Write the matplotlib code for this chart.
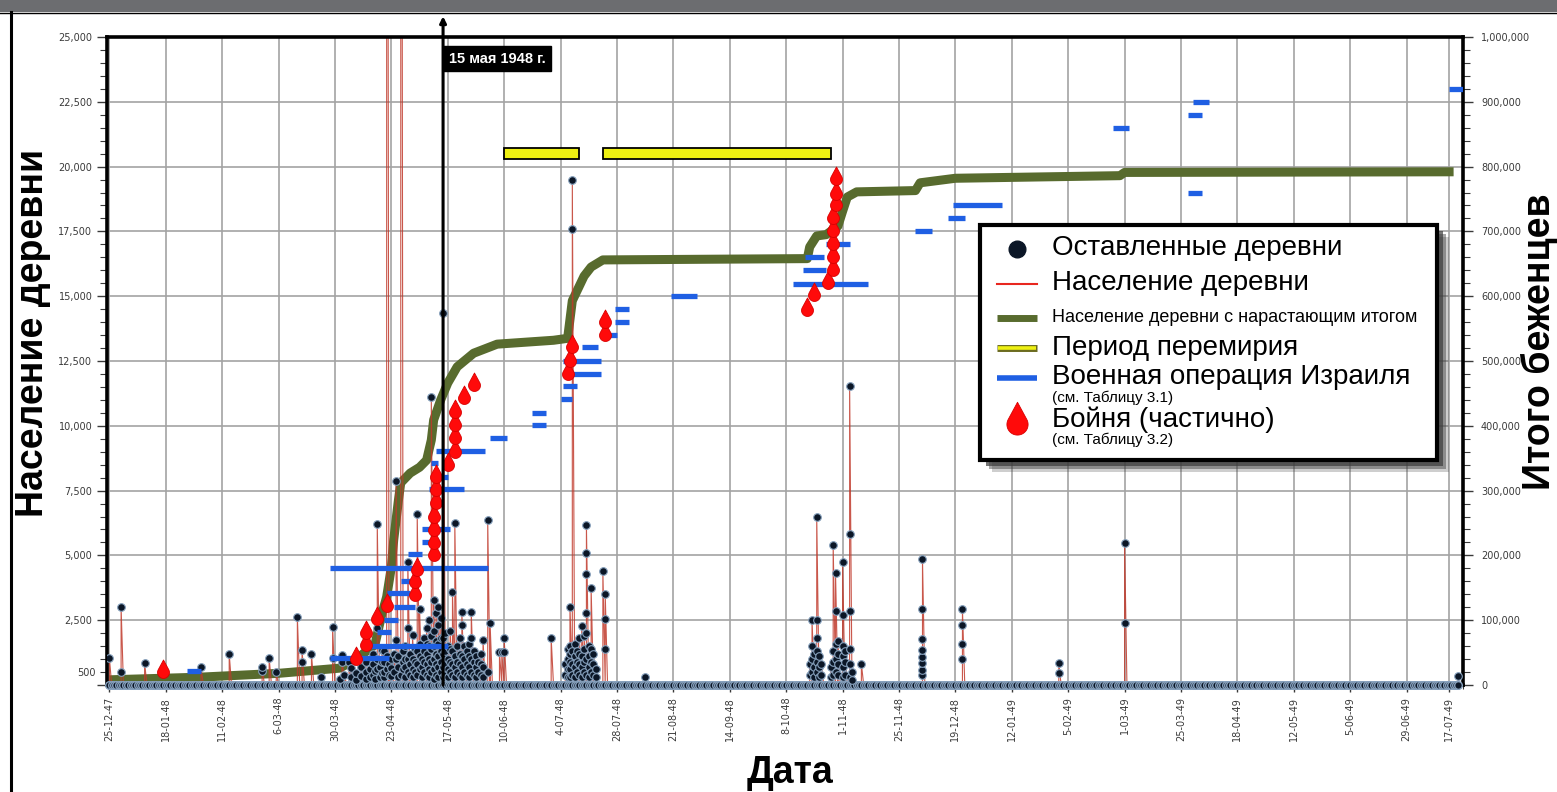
import matplotlib
matplotlib.use("Agg")
import matplotlib.pyplot as plt
import matplotlib.dates as mdates
from matplotlib.path import Path
from matplotlib.lines import Line2D
from matplotlib.patches import Rectangle
from matplotlib.ticker import MultipleLocator, FixedLocator, FuncFormatter
import numpy as np
import pandas as pd

W, H = 1557, 792

# Abandoned villages: date -> populations of villages abandoned that day
village_dates = [
    "1947-12-25", "1947-12-30", "1948-01-09", "1948-02-02", "1948-02-14",
    "1948-02-28", "1948-03-02", "1948-03-05", "1948-03-14", "1948-03-16",
    "1948-03-20", "1948-03-24", "1948-03-29", "1948-04-01", "1948-04-02",
    "1948-04-03", "1948-04-05", "1948-04-06", "1948-04-08", "1948-04-10",
    "1948-04-12", "1948-04-14", "1948-04-15", "1948-04-16", "1948-04-17",
    "1948-04-18", "1948-04-19", "1948-04-20", "1948-04-21", "1948-04-22",
    "1948-04-23", "1948-04-24", "1948-04-25", "1948-04-26", "1948-04-27",
    "1948-04-28", "1948-04-29", "1948-04-30", "1948-05-01", "1948-05-02",
    "1948-05-03", "1948-05-04", "1948-05-05", "1948-05-06", "1948-05-07",
    "1948-05-08", "1948-05-09", "1948-05-10", "1948-05-11", "1948-05-12",
    "1948-05-13", "1948-05-14", "1948-05-15", "1948-05-16", "1948-05-17",
    "1948-05-18", "1948-05-19", "1948-05-20", "1948-05-21", "1948-05-22",
    "1948-05-23", "1948-05-24", "1948-05-25", "1948-05-26", "1948-05-27",
    "1948-05-28", "1948-05-29", "1948-05-30", "1948-05-31", "1948-06-01",
    "1948-06-03", "1948-06-04", "1948-06-08", "1948-06-09", "1948-06-10",
    "1948-06-30", "1948-07-06", "1948-07-07", "1948-07-08", "1948-07-09",
    "1948-07-10", "1948-07-11", "1948-07-12", "1948-07-13", "1948-07-14",
    "1948-07-15", "1948-07-16", "1948-07-17", "1948-07-18", "1948-07-19",
    "1948-07-22", "1948-07-23", "1948-08-09", "1948-10-18", "1948-10-19",
    "1948-10-20", "1948-10-21", "1948-10-22", "1948-10-23", "1948-10-27",
    "1948-10-28", "1948-10-29", "1948-10-30", "1948-11-01", "1948-11-02",
    "1948-11-04", "1948-11-05", "1948-11-09", "1948-12-05", "1948-12-22",
    "1949-02-01", "1949-03-01", "1949-07-21",
]
village_pops = [
    [1050], [500, 3000], [850], [680], [1200],
    [540, 700], [1040], [500], [2620], [890, 1350],
    [1200], [300], [1040, 2240], [250], [890, 1160],
    [400], [890], [300, 650], [200, 450], [350, 700],
    [250, 500, 900], [300, 600], [400, 800, 1200], [250, 550], [600, 1000, 2200, 6210],
    [300, 700], [450, 900, 1350], [300, 500, 900, 1300], [600, 1100, 70000], [400, 800],
    [350, 650, 1000], [500, 1200], [1000, 1740, 7870], [300, 700, 1100], [400, 69000],
    [600, 900, 1300], [300, 700, 1000, 1500], [500, 1000, 2200, 4750], [400, 800, 1200], [300, 600, 1000, 1930],
    [500, 900, 1400], [400, 800, 1300, 6600], [600, 1100, 1600, 2930], [300, 700, 1000], [500, 900, 1300, 1800],
    [400, 800, 1200, 1600, 2200], [300, 600, 1000, 1500, 2500], [500, 900, 1400, 1900, 11100], [250, 600, 1000, 1500, 2100, 3280], [400, 800, 1200, 1700, 2780],
    [300, 700, 1100, 1600, 2300, 3000], [500, 900, 1300, 1800, 2600], [300, 700, 1200, 1800, 14350], [400, 800, 1300, 2000], [300, 600, 1000, 1500],
    [500, 900, 1400, 2100], [400, 800, 1300, 3590], [300, 700, 1100, 6250], [500, 900, 1500], [400, 800, 1200, 1800],
    [300, 700, 1100, 2310, 2820], [500, 1000, 1500], [400, 800, 1300], [300, 700, 1100, 1600], [500, 1000, 1810, 2820],
    [400, 900, 1300], [300, 700, 1100], [500, 900], [400, 800, 1200], [300, 700, 1740],
    [500, 6370], [2390], [1270], [1270], [1270, 1810],
    [1810], [400, 800], [300, 600, 1000, 1400], [300, 600, 900, 1200, 1500, 3010], [400, 800, 1300, 17590, 19480],
    [300, 700, 1100, 1600], [500, 900, 1300], [400, 800, 1200, 1800], [300, 700, 1100, 2280], [500, 900, 1400, 1900],
    [400, 1000, 2000, 2780, 4280, 5090, 6170], [300, 700, 1100, 1500], [500, 900, 1400, 3740], [400, 800, 1200], [300, 600],
    [4400], [1390, 2550, 3510], [310], [400, 800], [500, 1000, 1500, 2510],
    [300, 700, 1200], [500, 900, 1300, 1800, 2510, 6480], [300, 700, 1100], [400, 800], [300, 700],
    [400, 900, 1300, 5400], [500, 1000, 1600, 2850, 4320], [400, 800, 1200, 1700], [300, 700, 1100, 1500, 2700, 4750], [400, 900, 1300],
    [300, 800, 1400, 2850, 5830, 11540], [200, 500], [810], [390, 580, 850, 1080, 1350, 1770, 2930, 4860], [1000, 1580, 2310, 2930],
    [460, 850], [2390, 5480], [350],
]
assert len(village_dates) == len(village_pops)

# Cumulative village population (right axis)
cum_dates = [
    "1947-12-25", "1948-02-01", "1948-03-06", "1948-04-01", "1948-04-08",
    "1948-04-16", "1948-04-19", "1948-04-21", "1948-04-23", "1948-04-24",
    "1948-04-26", "1948-04-27", "1948-05-01", "1948-05-05", "1948-05-08",
    "1948-05-10", "1948-05-11", "1948-05-14", "1948-05-17", "1948-05-21",
    "1948-05-28", "1948-06-07", "1948-07-01", "1948-07-07", "1948-07-09",
    "1948-07-14", "1948-07-17", "1948-07-22", "1948-10-17", "1948-10-18",
    "1948-10-21", "1948-10-25", "1948-10-30", "1948-11-01", "1948-11-03",
    "1948-11-07", "1948-12-02", "1948-12-04", "1948-12-19", "1949-02-27",
    "1949-03-01", "1949-07-19",
]
cum_population = [
    8000, 12000, 18000, 26000, 40000,
    62000, 110000, 136000, 182000, 224000,
    285000, 312000, 327000, 336000, 347000,
    378000, 409000, 440000, 466000, 491000,
    512000, 526000, 532000, 535000, 593000,
    631000, 645000, 656000, 658000, 676000,
    693000, 695000, 708000, 731000, 753000,
    761000, 763000, 775000, 782000, 786000,
    791000, 792000,
]

# Truce periods
truce_start = ["1948-06-10", "1948-07-22"]
truce_end = ["1948-07-12", "1948-10-27"]
truce_level = 20500

# Israeli military operations
op_start = [
    "1948-01-27", "1948-03-28", "1948-04-14", "1948-04-17", "1948-04-20",
    "1948-04-24", "1948-04-21", "1948-04-27", "1948-03-28", "1948-04-30",
    "1948-05-06", "1948-05-06", "1948-05-09", "1948-05-11", "1948-05-10",
    "1948-05-12", "1948-06-04", "1948-06-22", "1948-06-22", "1948-07-04",
    "1948-07-05", "1948-07-09", "1948-07-05", "1948-07-13", "1948-07-22",
    "1948-07-27", "1948-07-27", "1948-08-20", "1948-10-11", "1948-10-15",
    "1948-10-16", "1948-10-25", "1948-12-02", "1948-12-16", "1948-12-18",
    "1949-02-24", "1949-03-28", "1949-03-28", "1949-03-30", "1949-07-17",
]
op_end = [
    "1948-02-02", "1948-04-22", "1948-05-17", "1948-04-23", "1948-04-26",
    "1948-05-03", "1948-05-01", "1948-05-01", "1948-06-03", "1948-05-06",
    "1948-05-12", "1948-05-18", "1948-05-24", "1948-05-17", "1948-05-13",
    "1948-06-02", "1948-06-11", "1948-06-28", "1948-06-28", "1948-07-09",
    "1948-07-11", "1948-07-21", "1948-07-21", "1948-07-20", "1948-07-28",
    "1948-08-02", "1948-08-02", "1948-08-31", "1948-11-12", "1948-10-25",
    "1948-10-24", "1948-11-04", "1948-12-09", "1948-12-23", "1949-01-08",
    "1949-03-03", "1949-04-03", "1949-04-03", "1949-04-06", "1949-07-23",
]
op_levels = [
    540, 1040, 1500, 2040, 2500, 3000, 3550, 4000, 4510, 5050,
    5520, 6020, 7560, 8020, 8560, 9030, 9530, 10030, 10500, 11030,
    11530, 12000, 12500, 13040, 13500, 14000, 14500, 15000, 15470, 16000,
    16500, 17010, 17500, 18000, 18500, 21500, 19000, 22000, 22500, 23000,
]

# Massacres
massacre_dates = [
    "1948-01-17", "1948-04-08", "1948-04-12", "1948-04-12", "1948-04-17",
    "1948-04-21", "1948-05-03", "1948-05-03", "1948-05-04", "1948-05-11",
    "1948-05-11", "1948-05-11", "1948-05-11", "1948-05-12", "1948-05-12",
    "1948-05-12", "1948-05-17", "1948-05-20", "1948-05-20", "1948-05-20",
    "1948-05-20", "1948-05-24", "1948-05-28", "1948-07-07", "1948-07-08",
    "1948-07-09", "1948-07-23", "1948-07-23", "1948-10-17", "1948-10-20",
    "1948-10-26", "1948-10-28", "1948-10-28", "1948-10-28", "1948-10-28",
    "1948-10-28", "1948-10-29", "1948-10-29", "1948-10-29",
]
massacre_levels = [
    500, 1000, 1540, 2000, 2540, 3050, 3470, 3970, 4440, 5020,
    5480, 5980, 6480, 7020, 7520, 8020, 8490, 8990, 9530, 10030,
    10530, 11070, 11570, 12000, 12500, 13040, 13500, 14000, 14470, 15050,
    15510, 16000, 16500, 17010, 17500, 18020, 18520, 18940, 19520,
]

state_date = "1948-05-15"

# Style
RED_LINE = "#c0392b"
DOT_FILL = "#0b1626"
DOT_EDGE = "#86a0bc"
GREEN = "#586b2e"
YELLOW = "#eef012"
BLUE = "#1f5fe3"
DROP_RED = "#ff0a0a"
GRID = "#a3a3a3"
TICK_COLOR = "#3a3a3a"
LABEL_FONT = "Liberation Sans"


def drop_path(tip=2.1, n=40):
    a = np.arccos(1 / tip)
    start = np.pi / 2 - a
    theta = np.linspace(start, start - (2 * np.pi - 2 * a), n)
    verts = [(0, tip)] + [(np.cos(t), np.sin(t)) for t in theta] + [(0, tip)]
    codes = [Path.MOVETO] + [Path.LINETO] * n + [Path.CLOSEPOLY]
    return Path(verts, codes)


DROP = drop_path()

fig = plt.figure(figsize=(W / 100, H / 100), dpi=100)
fig.patch.set_facecolor("white")
ax = fig.add_axes([107 / W, 1 - 685 / H, (1463 - 107) / W, (685 - 37) / H])
ax2 = ax.twinx()
ax.set_zorder(2)
ax.patch.set_visible(False)
ax2.set_zorder(1)

# village population series: a zero point every day plus each abandoned village
days = pd.date_range("1947-12-25", "1949-07-21", freq="D")
rows = [(d, 0) for d in days]
for ds, pops in zip(village_dates, village_pops):
    for p in pops:
        rows.append((pd.Timestamp(ds), p))
pts = pd.DataFrame(rows, columns=["date", "pop"]).sort_values(["date", "pop"], kind="stable")
villages = pts[pts["pop"] > 0]

ax.plot(pts["date"], pts["pop"], color=RED_LINE, lw=0.8, alpha=0.85, zorder=2)
ax.plot(days, np.zeros(len(days)), "o", ms=5.5, mfc=DOT_FILL, mec=DOT_EDGE, mew=1.0,
        clip_on=False, zorder=3)
ax.plot(villages["date"], villages["pop"], "o", ms=5.5, mfc=DOT_FILL, mec=DOT_EDGE, mew=0.8,
        zorder=3)

# cumulative total on right axis
ax2.plot(pd.to_datetime(cum_dates), cum_population, color=GREEN, lw=6.5,
         solid_joinstyle="round", solid_capstyle="butt", zorder=3)

# truce periods
ts = mdates.date2num(pd.to_datetime(truce_start))
te = mdates.date2num(pd.to_datetime(truce_end))
ax.barh([truce_level] * len(ts), te - ts, left=ts, height=400, color=YELLOW,
        edgecolor="black", linewidth=1.3, zorder=4)

# military operations
ax.hlines(op_levels, mdates.date2num(pd.to_datetime(op_start)),
          mdates.date2num(pd.to_datetime(op_end)), colors=BLUE, lw=3.8,
          capstyle="butt", zorder=5)

# massacres
ax.plot(pd.to_datetime(massacre_dates), massacre_levels, linestyle="none", marker=DROP,
        ms=18, mfc=DROP_RED, mec="#d80000", mew=0.6, zorder=6)

# 15 May 1948 marker
sd = pd.Timestamp(state_date)
ax.annotate("", xy=(sd, 25800), xytext=(sd, 0),
            arrowprops=dict(arrowstyle="-|>", color="black", lw=2.2, mutation_scale=9,
                            shrinkA=0, shrinkB=0),
            annotation_clip=False, zorder=7)
ax.annotate("15 мая 1948 г.", xy=(sd, 24170), xytext=(4, 0), textcoords="offset points",
            ha="left", va="center", color="white", fontsize=10.5, fontweight="bold",
            family=LABEL_FONT, zorder=8,
            bbox=dict(boxstyle="square,pad=0.4", fc="black", ec="black"))

# axes limits and ticks
ax.set_xlim(pd.Timestamp("1947-12-24"), pd.Timestamp("1949-07-23"))
ax.set_ylim(0, 25000)
ax2.set_ylim(0, 1_000_000)

major_ticks = list(pd.date_range("1947-12-25", "1949-06-29", freq="24D")) + [pd.Timestamp("1949-07-17")]
minor_ticks = pd.date_range("1947-12-25", "1949-07-23", freq="6D")
ax.xaxis.set_major_locator(FixedLocator(mdates.date2num(major_ticks)))
ax.xaxis.set_minor_locator(FixedLocator(mdates.date2num(minor_ticks)))


def date_label(v, pos):
    d = mdates.num2date(v)
    return f"{d.day}-{d:%m-%y}"


ax.xaxis.set_major_formatter(FuncFormatter(date_label))
ax.tick_params(axis="x", which="major", labelrotation=90, labelsize=7, labelcolor=TICK_COLOR,
               length=5, width=1, color=TICK_COLOR)
ax.tick_params(axis="x", which="minor", length=3, width=0.8, color=TICK_COLOR)

ax.yaxis.set_major_locator(MultipleLocator(2500))
ax.yaxis.set_minor_locator(MultipleLocator(500))
ax.yaxis.set_major_formatter(FuncFormatter(lambda v, p: "" if v == 0 else f"{v:,.0f}"))
ax.yaxis.set_minor_formatter(FuncFormatter(lambda v, p: "500" if abs(v - 500) < 1 else ""))
ax.tick_params(axis="y", which="both", labelsize=7, labelcolor=TICK_COLOR, color=TICK_COLOR)
ax.tick_params(axis="y", which="major", length=7, width=1)
ax.tick_params(axis="y", which="minor", length=5, width=0.8)

ax2.yaxis.set_major_locator(MultipleLocator(100000))
ax2.yaxis.set_minor_locator(MultipleLocator(20000))
ax2.yaxis.set_major_formatter(FuncFormatter(lambda v, p: f"{v:,.0f}"))
ax2.tick_params(axis="y", which="both", labelsize=7, labelcolor=TICK_COLOR, color=TICK_COLOR)
ax2.tick_params(axis="y", which="major", length=7, width=1, pad=6)
ax2.tick_params(axis="y", which="minor", length=5, width=0.8)

# grid lives on the lower axes so the data sits on top of it
ax.grid(False)
ax2.grid(True, axis="y", which="major", color=GRID, lw=1.2)
ax2.xaxis.set_visible(True)
ax2.tick_params(axis="x", which="both", bottom=False, top=False, labelbottom=False, labeltop=False)
ax2.grid(True, axis="x", which="major", color=GRID, lw=1.2)

for side in ["top", "left", "right", "bottom"]:
    ax.spines[side].set_color("black")
    ax.spines[side].set_linewidth(2.6)
    ax2.spines[side].set_visible(False)

# axis titles
fig.text(33 / W, 1 - 333 / H, "Население деревни", rotation=90, ha="center", va="center",
         fontsize=27, fontweight="bold", family=LABEL_FONT)
fig.text(1539 / W, 1 - 342 / H, "Итого беженцев", rotation=90, ha="center", va="center",
         fontsize=27, fontweight="bold", family=LABEL_FONT)
fig.text(790 / W, 1 - 773 / H, "Дата", ha="center", va="center",
         fontsize=27, fontweight="bold", family=LABEL_FONT)

# frame of the screenshot
fig.add_artist(Rectangle((0, 1 - 12 / H), 1, 12 / H, transform=fig.transFigure,
                         fc="#6c6d70", ec="none", zorder=20))
fig.add_artist(Line2D([0, 1], [1 - 12.5 / H] * 2, transform=fig.transFigure, color="black",
                      lw=1, zorder=21))
fig.add_artist(Line2D([11 / W] * 2, [0, 1 - 12 / H], transform=fig.transFigure, color="black",
                      lw=2.2, zorder=21))


# legend, drawn by hand in figure pixels
def fx(px):
    return px / W


def fy(py):
    return 1 - py / H


for off, alpha in [(12, 0.25), (9, 0.45), (6, 0.7)]:
    fig.add_artist(Rectangle((fx(980 + off), fy(460 + off)), (1437 - 980) / W, (460 - 225) / H,
                             transform=fig.transFigure, fc="#3c3c3c", ec="none",
                             alpha=alpha, zorder=10))
fig.add_artist(Rectangle((fx(980), fy(460)), (1437 - 980) / W, (460 - 225) / H,
                         transform=fig.transFigure, fc="white", ec="black", lw=3, zorder=11))

fig.add_artist(Line2D([fx(1017)], [fy(249)], marker="o", ms=12, mfc=DOT_FILL, mec=DOT_FILL,
                      transform=fig.transFigure, zorder=12))
fig.add_artist(Line2D([fx(997), fx(1037)], [fy(284)] * 2, color="#e8271f", lw=1.5,
                      transform=fig.transFigure, zorder=12))
fig.add_artist(Line2D([fx(997), fx(1037)], [fy(318)] * 2, color=GREEN, lw=5,
                      solid_capstyle="butt", transform=fig.transFigure, zorder=12))
fig.add_artist(Line2D([fx(997), fx(1037)], [fy(348)] * 2, color="#6b6b20", lw=5,
                      solid_capstyle="butt", transform=fig.transFigure, zorder=12))
fig.add_artist(Line2D([fx(998), fx(1036)], [fy(348)] * 2, color=YELLOW, lw=2.6,
                      solid_capstyle="butt", transform=fig.transFigure, zorder=13))
fig.add_artist(Line2D([fx(997), fx(1037)], [fy(378)] * 2, color=BLUE, lw=4,
                      solid_capstyle="butt", transform=fig.transFigure, zorder=12))
fig.add_artist(Line2D([fx(1017)], [fy(424)], marker=DROP, ms=32, mfc=DROP_RED, mec="#d80000",
                      mew=0.6, linestyle="none", transform=fig.transFigure, zorder=12))

legend_rows = [
    (248, "Оставленные деревни", 20),
    (283, "Население деревни", 20),
    (318, "Население деревни с нарастающим итогом", 13),
    (348, "Период перемирия", 20),
    (377, "Военная операция Израиля", 20),
    (398, "(см. Таблицу 3.1)", 11),
    (420, "Бойня (частично)", 20),
    (440, "(см. Таблицу 3.2)", 11),
]
for py, text, size in legend_rows:
    fig.text(fx(1052), fy(py), text, ha="left", va="center", fontsize=size,
             family=LABEL_FONT, zorder=13)

fig.savefig("out.png", dpi=100, facecolor="white")
